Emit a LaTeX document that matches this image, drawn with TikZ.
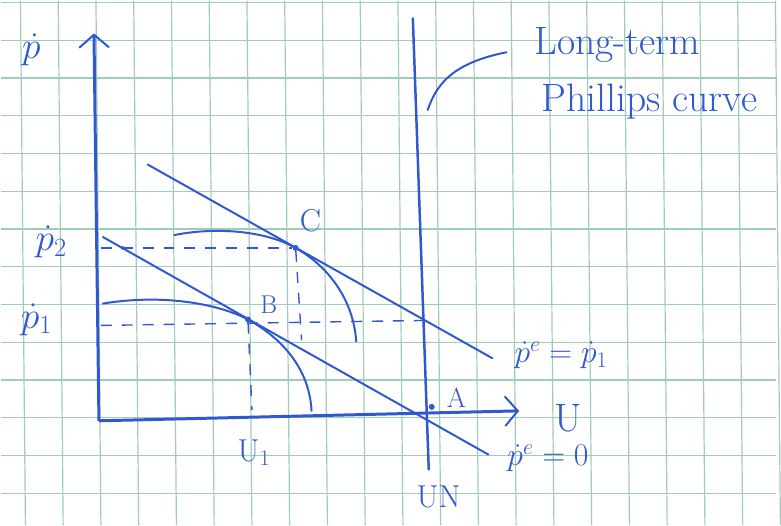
\RequirePackage{fix-cm}
\documentclass[tikz,border=0pt]{standalone}
\usepackage{amsmath}
\usetikzlibrary{arrows.meta,positioning,calc}
\definecolor{ink}{RGB}{48,88,208}
\definecolor{gridgreen}{RGB}{160,205,185}

\begin{document}
\begin{tikzpicture}[x=1bp, y=-1bp,
    axis/.style={draw=ink, line width=3bp, -{Straight Barb[length=13bp, width=30bp, line width=2bp]}},
    curve/.style={draw=ink, line width=2bp, line cap=round},
    guide/.style={draw=ink, line width=1.4bp, dash pattern=on 11bp off 10bp},
    lbl/.style={text=ink, inner sep=0pt, font=\fontsize{32}{38}\selectfont},
    plbl/.style={text=ink, inner sep=0pt, font=\fontsize{38}{44}\selectfont},
    biglbl/.style={text=ink, inner sep=0pt, font=\fontsize{40}{46}\selectfont},
    pt/.style={circle, fill=ink, inner sep=0pt, minimum size=6bp}
]
% squared paper
\fill[white] (0,0) rectangle (781,528);
\foreach \i in {0,...,20}
  \draw[gridgreen, line width=1.2bp] ({20+38*\i},0) -- ({25+38*\i},528);
\foreach \j in {0,...,13}
  \draw[gridgreen, line width=1.2bp] (0,{2+38*\j}) -- (781,{2+38*\j});
\useasboundingbox (0,0) rectangle (781,528);

% key points
\coordinate (O) at (99,423);
\coordinate (ytip) at (94,33);
\coordinate (xtip) at (522,413);
\coordinate (lrtop) at (415,18);
\coordinate (lrbot) at (431,472);
\coordinate (s1a) at (148,165);
\coordinate (s1b) at (495,360);
\coordinate (s0a) at (103,238);
\coordinate (s0b) at (491,457);
\node[pt] (B) at (249,321) {};
\node[pt] (C) at (297,249) {};
\node[pt] (A) at (434,409) {};
\node[pt, minimum size=4bp] (D) at (123,249) {};

% axes
\draw[axis] (O) -- (ytip);
\draw[axis] (O) -- (xtip);

% long-run and short-run lines
\draw[curve, line width=2.5bp] (lrtop) -- (lrbot);
\draw[curve] (s1a) -- (s1b);
\draw[curve] (s0a) -- (s0b);

% short-run curves
\draw[curve] (103,305) .. controls (170,294) and (225,308) .. (B.center)
  .. controls (285,341) and (311,372) .. (313,413);
\draw[curve] (175,236) .. controls (215,228) and (265,231) .. (C.center)
  .. controls (329,267) and (355,300) .. (358,343);

% guides
\draw[guide] (101,249) -- (C);
\draw[guide] (101,327) -- (425,322);
\draw[guide] (B) -- (253,412);
\draw[guide] (C) -- (303,342);

% labels
\node[plbl] (lblP) at (31,50) {$\dot{p}$};
\node[plbl] (lblP2) at (51,243) {$\dot{p}_2$};
\node[plbl] (lblP1) at (36,321) {$\dot{p}_1$};
\node[lbl] (lblC) at (312,222) {C};
\node[lbl, font=\fontsize{26}{30}\selectfont] (lblB) at (270,306) {B};
\node[lbl, font=\fontsize{28}{32}\selectfont] (lblA) at (459,400) {A};
\node[biglbl] (lblU) at (571,420) {U};
\node[lbl] (lblU1) at (255,455) {U$_1$};
\node[lbl] (lblUN) at (441,500) {UN};
\node[lbl] (lblPe1) at (564,357) {$\dot{p}^e = \dot{p}_1$};
\node[lbl] (lblPe0) at (551,461) {$\dot{p}^e = 0$};
\node[biglbl] (lblLong) at (621,45) {Long-term};
\node[biglbl] (lblPhil) at (653,102) {Phillips curve};
\coordinate (lead) at (430,110);
\draw[curve] (lead) .. controls (440,80) and (460,62) .. ($(lblLong.west)+(-28,7)$);
\end{tikzpicture}
\end{document}
